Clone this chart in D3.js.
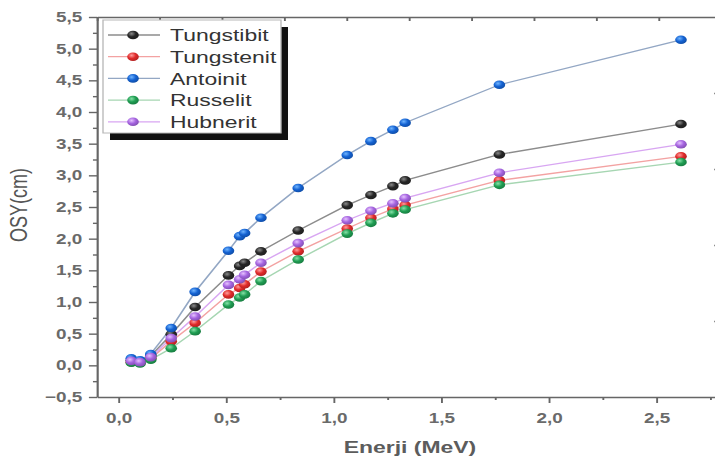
<!DOCTYPE html>
<html>
<head>
<meta charset="utf-8">
<script src="https://cdn.jsdelivr.net/npm/d3@7"></script>
<style>
  html, body { margin: 0; padding: 0; background: #fff; }
  svg { display: block; }
  text { font-family: "Liberation Sans", Arial, sans-serif; }
</style>
</head>
<body>
<svg id="chart" width="715" height="459"></svg>
<script>
// Gamma energies (MeV)
const energies = [0.0595, 0.1, 0.15, 0.245, 0.356, 0.511, 0.563, 0.586, 0.662, 0.835, 1.063, 1.173, 1.275, 1.332, 1.77, 2.614];

// Series names, in legend order
const seriesNames = ["Tungstibit", "Tungstenit", "Antoinit", "Russelit", "Hubnerit"];

// OSY (cm) per mineral
const tungstibit = [0.08, 0.06, 0.15, 0.49, 0.92, 1.42, 1.57, 1.62, 1.80, 2.13, 2.53, 2.69, 2.83, 2.92, 3.33, 3.81];
const tungstenit = [0.05, 0.04, 0.11, 0.38, 0.67, 1.12, 1.22, 1.28, 1.48, 1.80, 2.16, 2.33, 2.47, 2.53, 2.92, 3.30];
const antoinit   = [0.11, 0.08, 0.18, 0.59, 1.16, 1.81, 2.04, 2.09, 2.33, 2.80, 3.32, 3.54, 3.72, 3.83, 4.43, 5.14];
const russelit   = [0.04, 0.03, 0.09, 0.27, 0.54, 0.96, 1.07, 1.12, 1.33, 1.67, 2.08, 2.25, 2.40, 2.46, 2.85, 3.21];
const hubnerit   = [0.07, 0.05, 0.13, 0.43, 0.77, 1.27, 1.36, 1.43, 1.62, 1.93, 2.29, 2.44, 2.56, 2.64, 3.04, 3.49];

// Axis ticks
const xTicks = [0, 0.5, 1.0, 1.5, 2.0, 2.5];
const xMinorTicks = [0.25, 0.75, 1.25, 1.75, 2.25, 2.75];
const yTicks = [-0.5, 0, 0.5, 1.0, 1.5, 2.0, 2.5, 3.0, 3.5, 4.0, 4.5, 5.0, 5.5];
const yMinorTicks = [-0.25, 0.25, 0.75, 1.25, 1.75, 2.25, 2.75, 3.25, 3.75, 4.25, 4.75, 5.25];

const seriesValues = [tungstibit, tungstenit, antoinit, russelit, hubnerit];
const ballColors = [
  { base: "#262626", light: "#8a8a8a", line: "#8c8c8c" },
  { base: "#e02a2a", light: "#ff9c9c", line: "#f3a2a2" },
  { base: "#1462d2", light: "#6fb4ff", line: "#93a7c4" },
  { base: "#1f9d52", light: "#86e2a8", line: "#a6d6b2" },
  { base: "#a564e0", light: "#e6c2ff", line: "#d8a6f2" }
];

// The whole figure is drawn in a horizontally widened frame
const sx = 1.35;
const svg = d3.select("#chart");
const root = svg.append("g").attr("transform", `scale(${sx},1)`);

const x = d3.scaleLinear().domain([-0.1, 2.8]).range([97 / sx, 721 / sx]);
const y = d3.scaleLinear().domain([-0.5, 5.5]).range([397, 17]);

// Secondary frame axes (top and right) with their own tick spacing
const xTop = d3.scaleLinear().domain([0, 10]).range([97 / sx, 721 / sx]);
const yRight = d3.scaleLinear().domain([0, 10]).range([397, 17]);

const defs = svg.append("defs");
ballColors.forEach((c, i) => {
  const g = defs.append("radialGradient").attr("id", "ball" + i)
    .attr("cx", "38%").attr("cy", "35%").attr("r", "65%");
  g.append("stop").attr("offset", "0%").attr("stop-color", c.light);
  g.append("stop").attr("offset", "55%").attr("stop-color", c.base);
  g.append("stop").attr("offset", "100%").attr("stop-color", d3.color(c.base).darker(0.6));
});

const fmt = d => d3.format(".1f")(d).replace(".", ",");
const axisColor = "#666";

function styleAxis(sel, fontSize) {
  sel.selectAll("path.domain").attr("stroke", axisColor).attr("stroke-width", 1.6);
  sel.selectAll(".tick line").attr("stroke", axisColor).attr("stroke-width", 1.4);
  sel.selectAll(".tick text")
    .attr("fill", "#6a6a6a")
    .attr("font-size", fontSize)
    .attr("font-weight", "bold")
    .attr("font-family", "'Liberation Sans', Arial, sans-serif");
}

// Bottom axis
const gx = root.append("g").attr("transform", "translate(0,397)")
  .call(d3.axisBottom(x).tickValues(xTicks).tickFormat(fmt).tickSize(6).tickSizeOuter(0).tickPadding(10));
styleAxis(gx, 14);
const gxm = root.append("g").attr("transform", "translate(0,397)")
  .call(d3.axisBottom(x).tickValues(xMinorTicks).tickFormat("").tickSize(3).tickSizeOuter(0));
gxm.select("path.domain").remove();
styleAxis(gxm, 14);

// Left axis
const gy = root.append("g").attr("transform", `translate(${97 / sx},0)`)
  .call(d3.axisLeft(y).tickValues(yTicks).tickFormat(fmt).tickSize(6).tickSizeOuter(0).tickPadding(5));
styleAxis(gy, 14);
const gym = root.append("g").attr("transform", `translate(${97 / sx},0)`)
  .call(d3.axisLeft(y).tickValues(yMinorTicks).tickFormat("").tickSize(3).tickSizeOuter(0));
gym.select("path.domain").remove();
styleAxis(gym, 14);

// Top axis
const gt = root.append("g").attr("transform", "translate(0,17)")
  .call(d3.axisTop(xTop).ticks(10).tickFormat("").tickSizeInner(-4).tickSizeOuter(0));
styleAxis(gt, 14);

// Right axis
const gr = root.append("g").attr("transform", `translate(${721 / sx},0)`)
  .call(d3.axisRight(yRight).tickValues([2, 4, 6, 8]).tickFormat("").tickSizeInner(-5).tickSizeOuter(0));
styleAxis(gr, 14);
const grm = root.append("g").attr("transform", `translate(${721 / sx},0)`)
  .call(d3.axisRight(yRight).tickValues([1, 3, 5, 7, 9]).tickFormat("").tickSizeInner(-3).tickSizeOuter(0));
grm.select("path.domain").remove();
styleAxis(grm, 14);

// Series lines and markers
const line = d3.line().x((d, i) => x(energies[i])).y(d => y(d));
seriesValues.forEach((vals, s) => {
  root.append("path").datum(vals)
    .attr("d", line)
    .attr("fill", "none")
    .attr("stroke", ballColors[s].line)
    .attr("stroke-width", 1.3);
});
seriesValues.forEach((vals, s) => {
  root.append("g").selectAll("circle").data(vals).join("circle")
    .attr("cx", (d, i) => x(energies[i]))
    .attr("cy", d => y(d))
    .attr("r", 4.3)
    .attr("fill", `url(#ball${s})`);
});

// Axis titles
root.append("text")
  .attr("transform", `translate(${21 / sx},205) rotate(-90)`)
  .attr("text-anchor", "middle")
  .attr("dominant-baseline", "middle")
  .attr("font-size", 18)
  .attr("fill", "#555")
  .text("OSY(cm)");

root.append("text")
  .attr("x", 410 / sx).attr("y", 453)
  .attr("text-anchor", "middle")
  .attr("font-size", 17)
  .attr("font-weight", "bold")
  .attr("fill", "#5c5c5c")
  .text("Enerji (MeV)");

// Legend
const lg = root.append("g");
const lx0 = 103 / sx, ly0 = 20, lw = (281 - 103) / sx, lh = 113;
lg.append("rect").attr("x", lx0 + 7 / sx).attr("y", ly0 + 7).attr("width", lw).attr("height", lh).attr("fill", "#111");
lg.append("rect").attr("x", lx0).attr("y", ly0).attr("width", lw).attr("height", lh)
  .attr("fill", "#fff").attr("stroke", "#b8b8b8").attr("stroke-width", 1);
seriesNames.forEach((name, s) => {
  const cy = 35 + s * 21.7;
  lg.append("line").attr("x1", 108 / sx).attr("x2", 160 / sx).attr("y1", cy).attr("y2", cy)
    .attr("stroke", ballColors[s].line).attr("stroke-width", 1.3);
  lg.append("circle").attr("cx", 133 / sx).attr("cy", cy).attr("r", 4.3).attr("fill", `url(#ball${s})`);
  lg.append("text").attr("x", 170 / sx).attr("y", cy).attr("dy", "0.36em")
    .attr("font-size", 17).attr("fill", "#333").text(name);
});
</script>
</body>
</html>
